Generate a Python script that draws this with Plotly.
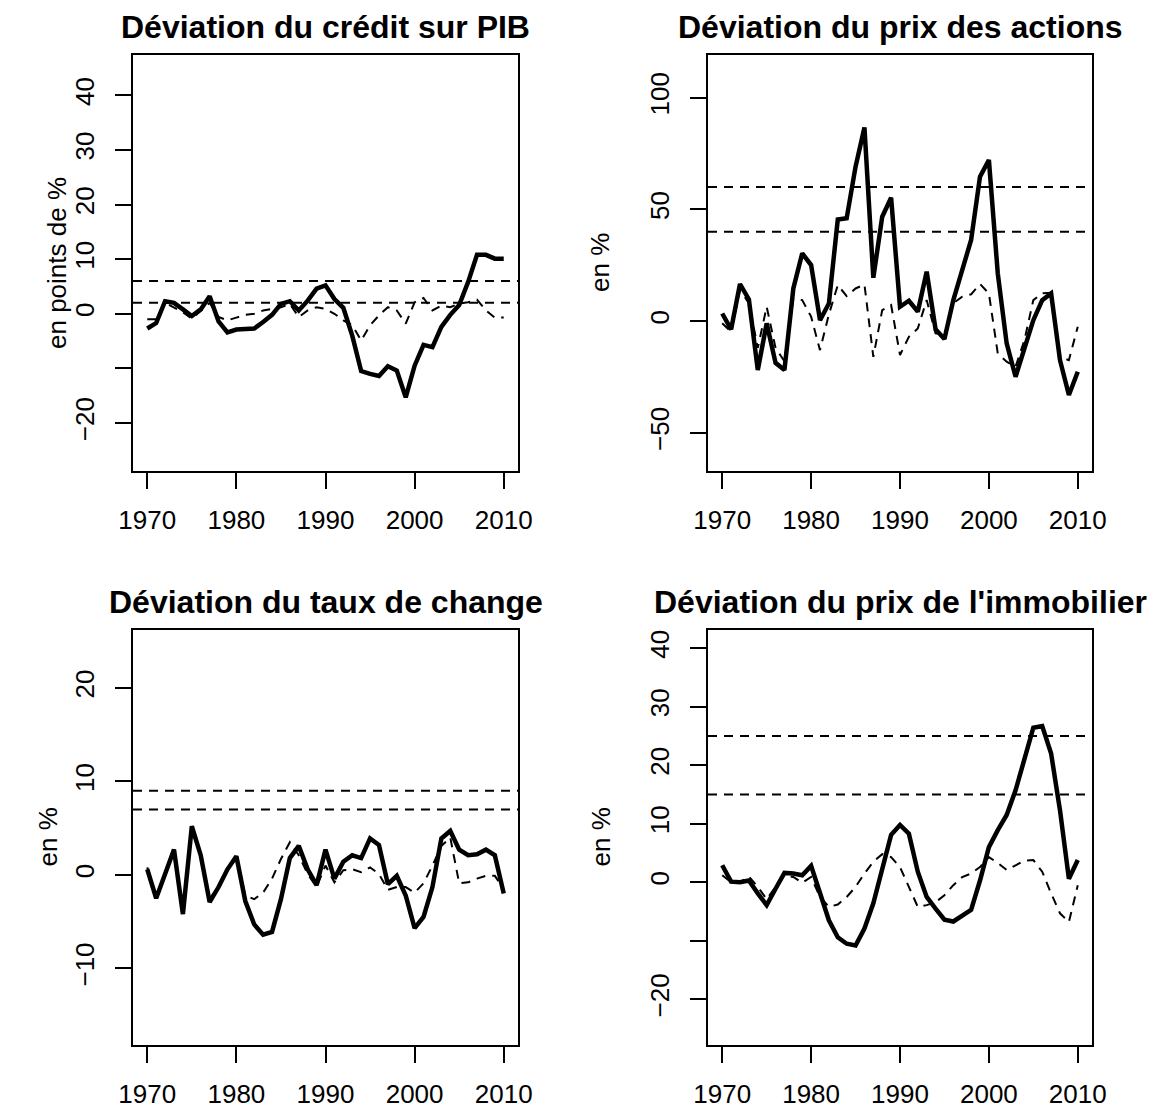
import plotly.graph_objects as go

years = list(range(1970, 2011))

credit_dev = [-2.7, -1.7, 2.3, 2.0, 0.8, -0.4, 0.8, 3.2, -1.4, -3.4,
              -2.9, -2.9, -2.7, -1.5, -0.2, 1.8, 2.3, 0.6, 2.4, 4.6,
              5.2, 2.7, 1.1, -4.0, -10.5, -11.0, -11.4, -9.6, -10.4, -15.3,
              -9.5, -5.7, -6.1, -2.4, -0.2, 1.6, 5.8, 10.8, 10.8, 10.1,
              10.1]
credit_alt = [-1.0, -1.0, 2.0, 1.2, 0.3, -0.9, 0.6, 2.0, -0.6, -1.2,
              -0.7, -0.2, 0.0, 0.6, 0.9, 1.2, 1.8, -0.6, 0.6, 1.2,
              0.9, 0.0, -1.2, -2.1, -4.9, -2.1, -0.3, 1.2, 0.6, -1.8,
              2.1, 2.9, 0.6, 1.5, 1.2, 1.9, 2.1, 2.6, 0.6, -0.7,
              -0.7]
credit_thresholds = [2, 6]

stock_dev = [3.4, -3.7, 16.6, 9.7, -21.9, -1.0, -18.7, -21.9, 14.6, 30.3,
             25.1, 0.4, 7.9, 45.5, 46.0, 69.1, 86.7, 19.4, 46.7, 55.2,
             6.4, 9.1, 4.2, 22.1, -3.7, -8.0, 9.4, 22.8, 36.3, 64.6,
             72.1, 21.3, -10.0, -24.9, -11.5, 0.4, 9.4, 12.4, -17.5, -33.1,
             -22.7]
stock_alt = [-1.0, -4.8, 14.0, 8.0, -12.0, 6.4, -12.0, -18.0, 10.1, 9.4,
             2.0, -13.0, 3.0, 16.1, 11.2, 14.6, 16.4, -16.0, 4.9, 7.2,
             -15.2, -7.0, -3.3, 9.4, -5.5, -6.0, 8.0, 10.9, 12.0, 16.6,
             12.4, -14.5, -18.2, -20.4, -8.5, 9.4, 12.4, 12.7, -16.0, -17.5,
             -2.5]
stock_thresholds = [40, 60]

exch_dev = [0.6, -2.5, 0.1, 2.7, -4.2, 5.2, 2.1, -2.9, -1.3, 0.6,
            2.0, -2.8, -5.3, -6.4, -6.1, -2.6, 1.8, 3.1, 0.6, -1.1,
            2.7, -0.4, 1.4, 2.1, 1.8, 3.9, 3.2, -1.0, -0.1, -2.2,
            -5.7, -4.5, -1.3, 3.9, 4.7, 2.7, 2.1, 2.2, 2.7, 2.1,
            -2.0]
exch_alt = [0.8, -2.3, 0.2, 2.5, -3.8, 4.8, 2.0, -2.6, -1.2, 0.7,
            1.8, -2.2, -2.6, -1.9, -0.4, 1.7, 3.5, 2.1, 0.1, -1.3,
            1.0, -0.8, 0.5, 0.6, 0.3, 0.8, 0.1, -1.6, -1.3, -1.3,
            -1.9, -0.9, 1.0, 3.1, 4.0, -0.9, -0.8, -0.4, -0.1, -0.1,
            -1.5]
exch_thresholds = [7, 9]

house_dev = [2.9, 0.1, 0.0, 0.3, -1.9, -3.9, -1.1, 1.6, 1.5, 1.2,
             2.8, -1.6, -6.5, -9.4, -10.5, -10.8, -7.9, -3.6, 2.1, 8.1,
             9.8, 8.3, 1.8, -2.5, -4.5, -6.4, -6.7, -5.6, -4.7, 0.3,
             6.0, 8.9, 11.5, 15.7, 21.4, 26.4, 26.7, 22.0, 12.3, 0.6,
             3.8]
house_alt = [1.2, 0.0, 0.0, 1.0, -0.8, -2.9, -0.8, 1.2, 0.9, -0.1,
             0.9, -2.5, -4.2, -3.8, -2.5, -0.8, 1.5, 3.5, 4.8, 4.3,
             2.6, -0.8, -4.2, -3.9, -3.4, -2.2, -0.5, 0.9, 1.5, 2.6,
             4.3, 3.3, 2.1, 2.9, 3.7, 3.8, 1.8, -1.9, -5.3, -6.8,
             -0.5]
house_thresholds = [15, 25]

titles = ["Déviation du crédit sur PIB", "Déviation du prix des actions",
          "Déviation du taux de change", "Déviation du prix de l'immobilier"]
ylabels = ["en points de %", "en %", "en %", "en %"]
x_ticks = [1970, 1980, 1990, 2000, 2010]
y_ticks = [[-20, -10, 0, 10, 20, 30, 40], [-50, 0, 50, 100],
           [-10, 0, 10, 20], [-20, -10, 0, 10, 20, 30, 40]]
y_hidden = [[-10], [], [], [-10]]
y_ranges = [[-28.8, 47.4], [-67.1, 119.1], [-18.2, 26.2], [-27.8, 43.1]]

series = [(credit_dev, credit_alt, credit_thresholds),
          (stock_dev, stock_alt, stock_thresholds),
          (exch_dev, exch_alt, exch_thresholds),
          (house_dev, house_alt, house_thresholds)]

W, H = 1153, 1110
col_px = [(133, 518), (708, 1092)]
row_px = [(55, 471), (630, 1045)]
ylab_px = [57, 600, 47, 600]
FONT = "Liberation Sans, Arial, Helvetica, sans-serif"

fig = go.Figure()
layout = dict(width=W, height=H, margin=dict(l=0, r=0, t=0, b=0, autoexpand=False),
              autosize=False,
              paper_bgcolor="white", plot_bgcolor="white", showlegend=False,
              font=dict(family=FONT, color="black", size=26))
annotations = []
shapes = []

for i in range(4):
    r, c = divmod(i, 2)
    n = i + 1
    xa = "xaxis" if n == 1 else f"xaxis{n}"
    ya = "yaxis" if n == 1 else f"yaxis{n}"
    xr = "x" if n == 1 else f"x{n}"
    yr = "y" if n == 1 else f"y{n}"
    x0, x1 = col_px[c]
    y0, y1 = row_px[r]
    layout[xa] = dict(domain=[x0 / W, x1 / W], anchor=yr, range=[1968.4, 2011.6],
                      tickmode="array", tickvals=x_ticks, ticktext=[str(t) for t in x_ticks],
                      ticks="outside", ticklen=16, tickwidth=2, tickcolor="black",
                      showline=True, linewidth=2, linecolor="black", mirror=True,
                      showgrid=False, zeroline=False, ticklabelstandoff=9, automargin=False,
                      tickfont=dict(size=26, family=FONT, color="black"))
    tt = ["" if v in y_hidden[i] else str(v).replace("-", "\u2212") for v in y_ticks[i]]
    layout[ya] = dict(domain=[1 - y1 / H, 1 - y0 / H], anchor=xr, range=y_ranges[i],
                      tickmode="array", tickvals=y_ticks[i], ticktext=tt, tickangle=-90,
                      ticks="outside", ticklen=16, tickwidth=2, tickcolor="black",
                      showline=True, linewidth=2, linecolor="black", mirror=True,
                      showgrid=False, zeroline=False, ticklabelstandoff=11, automargin=False,
                      tickfont=dict(size=26, family=FONT, color="black"))
    dev, alt, thr = series[i]
    fig.add_trace(go.Scatter(x=years, y=alt, mode="lines", xaxis=xr, yaxis=yr,
                             line=dict(color="black", width=2, dash="9px,7px")))
    fig.add_trace(go.Scatter(x=years, y=dev, mode="lines", xaxis=xr, yaxis=yr,
                             line=dict(color="black", width=4.5)))
    for t in thr:
        shapes.append(dict(type="line", xref=f"{xr} domain", yref=yr, x0=0, x1=1, y0=t, y1=t,
                           line=dict(color="black", width=2, dash="9px,7px")))
    annotations.append(dict(text=titles[i], xref="paper", yref="paper",
                            x=(x0 + x1) / 2 / W, y=1 - (y0 - 28) / H,
                            xanchor="center", yanchor="middle", showarrow=False,
                            font=dict(size=32, family=FONT, color="black", weight="bold")))
    annotations.append(dict(text=ylabels[i], xref="paper", yref="paper",
                            x=ylab_px[i] / W, y=1 - (y0 + y1) / 2 / H, textangle=-90,
                            xanchor="center", yanchor="middle", showarrow=False,
                            font=dict(size=26, family=FONT, color="black")))

layout["annotations"] = annotations
layout["shapes"] = shapes
fig.update_layout(**layout)
fig.write_html("out.html")
